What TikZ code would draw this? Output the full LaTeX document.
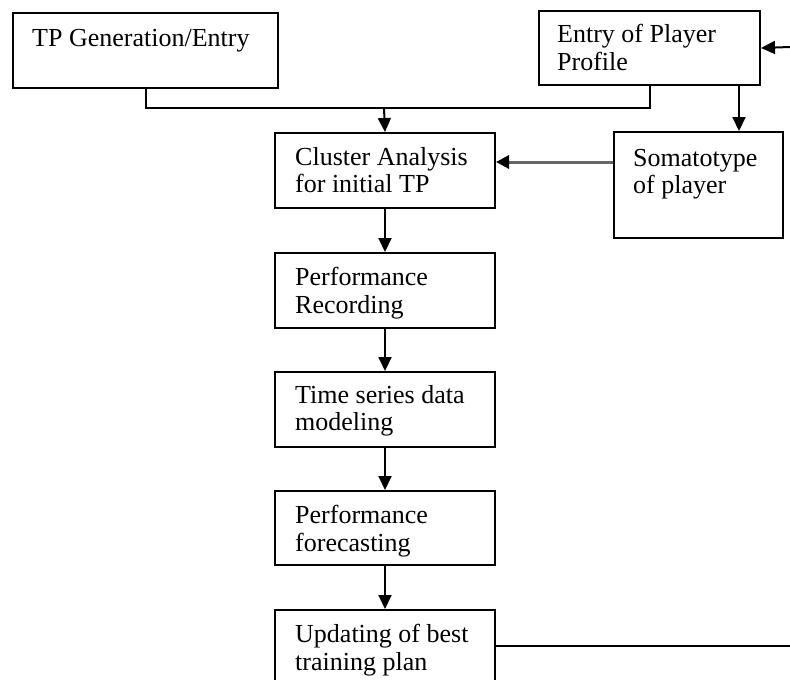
\documentclass[tikz,border=0pt]{standalone}
\usepackage{fontspec}
\setmainfont{Liberation Serif}
\usetikzlibrary{arrows.meta}
\begin{document}
\begin{tikzpicture}[x=1pt,y=-1pt,
  box/.style={draw=black,line width=2pt,rectangle,inner sep=0pt,anchor=north west},
  lbl/.style={anchor=north west,inner sep=0pt,align=left,font=\fontsize{26}{27.5}\selectfont,text=black},
  conn/.style={line width=2pt,draw=black},
  arr/.style={conn,-{Triangle[length=14pt,width=13pt]}},
  garr/.style={line width=3pt,draw=black!60,-{Triangle[length=13pt,width=13pt,fill=black,color=black]}}]
\useasboundingbox (0,0) rectangle (790,680);
\begin{scope}
\clip (0,0) rectangle (790,680);
% boxes
\node[box,minimum width=265pt,minimum height=75pt] (tp) at (12,12) {};
\node[box,minimum width=221pt,minimum height=74pt] (entry) at (538,10) {};
\node[box,minimum width=169pt,minimum height=106pt] (soma) at (613,131) {};
\node[box,minimum width=220pt,minimum height=75pt] (cluster) at (274,132) {};
\node[box,minimum width=220pt,minimum height=75pt] (rec) at (274,252) {};
\node[box,minimum width=220pt,minimum height=75pt] (ts) at (274,371) {};
\node[box,minimum width=220pt,minimum height=74pt] (fc) at (274,490) {};
\node[box,minimum width=220pt,minimum height=90pt] (upd) at (274,609) {};
% texts
\node[lbl] (tpt) at (32,29) {TP Generation/Entry};
\node[lbl] (entryt) at (557,24) {Entry of Player\\Profile};
\node[lbl] (somat) at (633,149) {Somatotype\\of player};
\node[lbl] (clustert) at (295,147) {Cluster Analysis\\for initial TP};
\node[lbl] (rect) at (295,267) {Performance\\Recording};
\node[lbl] (tst) at (295,385) {Time series data\\modeling};
\node[lbl] (fct) at (295,505) {Performance\\forecasting};
\node[lbl] (updt) at (295,624) {Updating of best\\training plan};
% coordinates
\coordinate (j) at (384,108);
\coordinate (inR) at (790,47);
\coordinate (outR) at (790,646);
% connectors
\draw[conn] (tp.south) |- (j) -| (entry.south);
\draw[arr] (j) -- (cluster.north);
\draw[arr] (inR) -- (entry.east);
\draw[arr] ([xshift=-22pt]entry.south east) -- ([xshift=-22pt]entry.south east |- soma.north);
\draw[garr] (soma.west |- {(0,162)}) -- (cluster.east |- {(0,162)});
\draw[arr] (cluster.south) -- (rec.north);
\draw[arr] (rec.south) -- (ts.north);
\draw[arr] (ts.south) -- (fc.north);
\draw[arr] (fc.south) -- (upd.north);
\draw[conn] (upd.east |- outR) -- (outR);
\end{scope}
\end{tikzpicture}
\end{document}
